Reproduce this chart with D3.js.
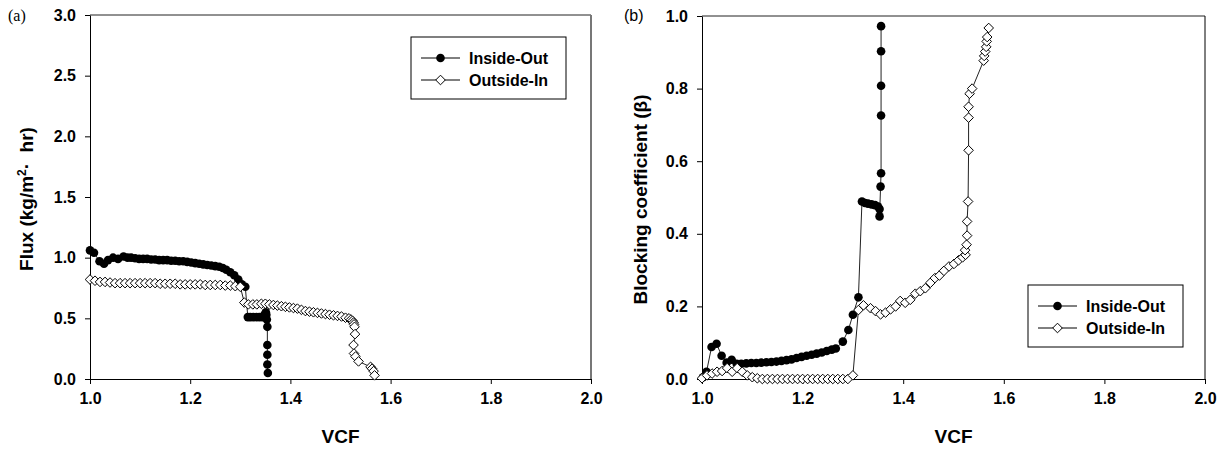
<!DOCTYPE html>
<html>
<head>
<meta charset="UTF-8">
<title>Flux and blocking coefficient vs VCF</title>
<style>
  body { margin: 0; background: #fff; }
  svg { display: block; }
  text { font-family: "Liberation Sans", Arial, sans-serif; }
  .tick text { font-size: 16px; font-weight: bold; fill: #000; }
  .tick line, .domain { stroke: #000; stroke-width: 1px; }
  .title { font-size: 19px; font-weight: bold; }
  .legend text { font-size: 16px; font-weight: bold; }
  .series { fill: none; stroke: #222; stroke-width: 1px; }
</style>
</head>
<body>
<svg id="chart" width="1225" height="450"></svg>
<script src="https://d3js.org/d3.v7.min.js"></script>
<script>
// ---- data ----
const seriesNames = ["Inside-Out", "Outside-In"];
const vcfTicks = [1.0, 1.2, 1.4, 1.6, 1.8, 2.0];
const fluxTicks = [0.0, 0.5, 1.0, 1.5, 2.0, 2.5, 3.0];
const betaTicks = [0.0, 0.2, 0.4, 0.6, 0.8, 1.0];

// (a) flux, inside-out
const vcfFluxIO = [1.000,1.008,1.019,1.028,1.036,1.046,1.056,1.067,1.075,1.082,1.090,1.098,1.106,1.114,1.122,1.130,1.138,1.146,1.154,1.162,1.170,1.178,1.186,1.194,1.202,1.210,1.218,1.226,1.234,1.242,1.250,1.258,1.265,1.272,1.280,1.288,1.296,1.303,1.310,1.315,1.320,1.326,1.332,1.338,1.344,1.348,1.351,1.352,1.353,1.354,1.354,1.354,1.354,1.355];
const fluxIO = [1.06,1.04,0.97,0.95,0.98,1.00,0.99,1.01,1.00,1.00,0.995,0.99,0.99,0.99,0.985,0.985,0.98,0.98,0.98,0.975,0.975,0.97,0.97,0.965,0.96,0.955,0.95,0.945,0.94,0.935,0.93,0.925,0.915,0.90,0.88,0.855,0.82,0.78,0.76,0.51,0.51,0.51,0.51,0.51,0.51,0.53,0.55,0.53,0.49,0.43,0.28,0.20,0.12,0.05];

// (a) flux, outside-in
const vcfFluxOI = [1.00,1.01,1.02,1.03,1.04,1.05,1.06,1.07,1.08,1.09,1.10,1.11,1.12,1.13,1.14,1.15,1.16,1.17,1.18,1.19,1.20,1.21,1.22,1.23,1.24,1.25,1.26,1.27,1.28,1.29,1.30,
  1.308,1.316,1.325,1.333,1.342,1.350,1.358,1.366,1.374,1.382,1.390,1.398,1.406,1.414,1.422,1.430,1.438,1.446,1.454,1.462,1.470,1.478,1.486,1.494,1.502,1.510,1.517,1.521,1.524,1.526,1.527,1.528,1.529,1.526,1.527,1.530,1.536,1.560,1.563,1.566,1.568];
const fluxOI = [0.82,0.81,0.80,0.80,0.795,0.79,0.79,0.79,0.79,0.79,0.79,0.79,0.79,0.79,0.785,0.785,0.785,0.785,0.78,0.78,0.78,0.78,0.78,0.775,0.775,0.775,0.775,0.77,0.77,0.765,0.76,
  0.63,0.615,0.615,0.615,0.62,0.62,0.615,0.61,0.605,0.60,0.595,0.59,0.585,0.58,0.57,0.56,0.555,0.55,0.545,0.54,0.535,0.53,0.525,0.52,0.515,0.505,0.50,0.49,0.48,0.465,0.45,0.43,0.37,0.28,0.21,0.185,0.145,0.10,0.085,0.065,0.03];

// (b) blocking coefficient, inside-out
const vcfBetaIO = [1.002,1.009,1.019,1.029,1.039,1.049,1.059,1.069,1.078,1.088,1.098,1.108,1.118,1.128,1.138,1.148,1.158,1.168,1.178,1.188,1.198,1.208,1.218,1.228,1.238,1.248,1.258,1.266,1.280,1.291,1.300,1.311,1.318,1.324,1.330,1.337,1.344,1.350,1.353,1.353,1.355,1.356,1.356,1.356,1.356,1.356];
const betaIO = [0.005,0.02,0.088,0.097,0.064,0.045,0.053,0.042,0.042,0.043,0.044,0.044,0.045,0.046,0.047,0.048,0.050,0.052,0.054,0.058,0.061,0.064,0.067,0.070,0.073,0.077,0.081,0.084,0.103,0.135,0.177,0.225,0.489,0.485,0.483,0.481,0.479,0.475,0.468,0.448,0.530,0.567,0.726,0.808,0.903,0.972];

// (b) blocking coefficient, outside-in
const vcfBetaOI = [1.000,1.010,1.020,1.030,1.040,1.050,1.060,1.070,1.080,1.090,1.100,1.110,1.120,1.130,1.140,1.150,1.160,1.170,1.180,1.190,1.200,1.210,1.220,1.230,1.240,1.250,1.260,1.270,1.280,1.290,1.300,
  1.311,1.321,1.335,1.345,1.355,1.365,1.375,1.385,1.394,1.404,1.414,1.424,1.434,1.444,1.454,1.463,1.472,1.481,1.491,1.501,1.510,1.518,1.524,1.523,1.526,1.527,1.527,1.529,1.530,1.530,1.530,1.532,1.537,1.560,1.561,1.563,1.565,1.566,1.567,1.570];
const betaOI = [0.002,0.010,0.015,0.020,0.022,0.030,0.020,0.030,0.020,0.010,0.005,0.002,0,0,0,0,0,0,0,0,0,0,0,0,0,0,0,0,0,0,0.010,
  0.190,0.203,0.195,0.187,0.178,0.183,0.192,0.200,0.215,0.210,0.218,0.235,0.242,0.250,0.265,0.278,0.285,0.298,0.310,0.317,0.327,0.335,0.342,0.355,0.370,0.395,0.434,0.489,0.630,0.720,0.750,0.786,0.800,0.877,0.890,0.902,0.915,0.930,0.942,0.967];

const svg = d3.select("#chart");

const diamond = "M0,-4.8L4.8,0L0,4.8L-4.8,0Z";

function drawMarker(sel, type) {
  if (type === 0) {
    sel.append("circle").attr("r", 4.3).attr("fill", "#000");
  } else {
    sel.append("path").attr("d", diamond).attr("fill", "#fff").attr("stroke", "#000").attr("stroke-width", 1);
  }
}

function panel(p) {
  const x = d3.scaleLinear().domain([1.0, 2.0]).range(p.xr);
  const y = d3.scaleLinear().domain(p.ydom).range(p.yr);
  const g = svg.append("g");

  // frame top / right
  g.append("line").attr("x1", p.xr[0]).attr("x2", p.xr[1]).attr("y1", p.yr[1]).attr("y2", p.yr[1])
    .attr("stroke", "#222").attr("stroke-width", 1);
  g.append("line").attr("x1", p.xr[1]).attr("x2", p.xr[1]).attr("y1", p.yr[1]).attr("y2", p.yr[0])
    .attr("stroke", p.rightColor).attr("stroke-width", p.rightWidth);

  g.append("g").attr("transform", `translate(0,${p.yr[0]})`)
    .call(d3.axisBottom(x).tickValues(vcfTicks).tickFormat(d3.format(".1f")).tickSizeInner(5).tickSizeOuter(0).tickPadding(9));
  g.append("g").attr("transform", `translate(${p.xr[0]},0)`)
    .call(d3.axisLeft(y).tickValues(p.yticks).tickFormat(d3.format(".1f")).tickSizeInner(5).tickSizeOuter(0).tickPadding(9));

  // series
  const line = d3.line().x(d => x(d[0])).y(d => y(d[1]));
  p.series.forEach((s, k) => {
    const pts = d3.zip(s[0], s[1]);
    g.append("path").attr("class", "series").attr("d", line(pts));
    const m = g.append("g").selectAll("g").data(pts).join("g")
      .attr("transform", d => `translate(${x(d[0])},${y(d[1])})`);
    drawMarker(m, k);
  });

  // axis titles
  g.append("text").attr("class", "title").attr("text-anchor", "middle")
    .attr("x", (p.xr[0] + p.xr[1]) / 2).attr("y", 443).text("VCF");
  const yt = g.append("text").attr("class", "title").attr("text-anchor", "middle")
    .attr("transform", `translate(${p.ytx},${(p.yr[0] + p.yr[1]) / 2 + 2}) rotate(-90)`);
  p.ytitle(yt);

  // panel letter
  g.append("text").attr("x", p.letterX).attr("y", 21)
    .style("font-family", p.letterFont).style("font-size", "16px").text(p.letter);

  // legend
  const lg = g.append("g").attr("class", "legend").attr("transform", `translate(${p.legend[0]},${p.legend[1]})`);
  lg.append("rect").attr("width", 155).attr("height", 62).attr("fill", "#fff").attr("stroke", "#000").attr("stroke-width", 1);
  seriesNames.forEach((name, k) => {
    const row = lg.append("g").attr("transform", `translate(0,${21 + k * 22})`);
    row.append("line").attr("x1", 10).attr("x2", 49).attr("stroke", "#000").attr("stroke-width", 1);
    drawMarker(row.append("g").attr("transform", "translate(29.5,0)"), k);
    row.append("text").attr("x", 58).attr("dy", "0.36em").text(name);
  });
}

panel({
  xr: [90, 591], yr: [379, 15], ydom: [0, 3], yticks: fluxTicks,
  series: [[vcfFluxIO, fluxIO], [vcfFluxOI, fluxOI]],
  rightColor: "#777", rightWidth: 2,
  ytx: 33,
  ytitle: t => {
    t.append("tspan").text("Flux (kg/m");
    t.append("tspan").attr("dy", -7).style("font-size", "12px").text("2");
    t.append("tspan").attr("dy", 7).text("\u00B7\u00A0 hr)");
  },
  letter: "(a)", letterX: 8, letterFont: "'Liberation Serif', 'DejaVu Serif', serif",
  legend: [411, 37]
});

panel({
  xr: [702, 1205], yr: [379, 16], ydom: [0, 1], yticks: betaTicks,
  series: [[vcfBetaIO, betaIO], [vcfBetaOI, betaOI]],
  rightColor: "#000", rightWidth: 1,
  ytx: 647,
  ytitle: t => t.text("Blocking coefficient (\u03B2)"),
  letter: "(b)", letterX: 624, letterFont: "'Liberation Sans', Arial, sans-serif",
  legend: [1028, 285]
});
</script>
</body>
</html>
